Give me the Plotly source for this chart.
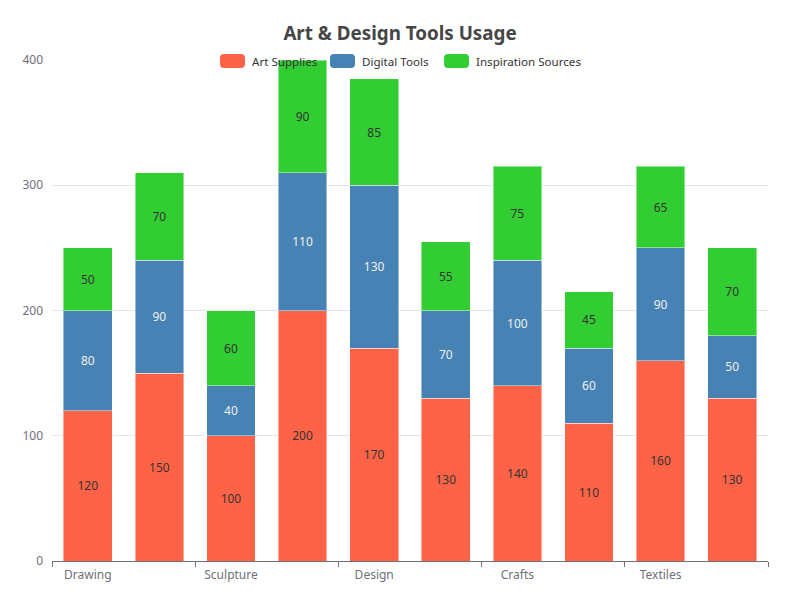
import plotly.graph_objects as go

categories = ["Drawing", "Painting", "Sculpture", "Digital Art", "Design",
              "Photography", "Crafts", "Printmaking", "Textiles", "Calligraphy"]
art_supplies = [120, 150, 100, 200, 170, 130, 140, 110, 160, 130]
digital_tools = [80, 90, 40, 110, 130, 70, 100, 60, 90, 50]
inspiration = [50, 70, 60, 90, 85, 55, 75, 45, 65, 70]
y_ticks = [0, 100, 200, 300, 400]

series = [
    ("Art Supplies", art_supplies, "#FF6347", "#333333"),
    ("Digital Tools", digital_tools, "#4682B4", "#EEEEEE"),
    ("Inspiration Sources", inspiration, "#32CD32", "#333333"),
]

xs = list(range(len(categories)))
FONT = "Noto Sans, Open Sans, sans-serif"

# page body margin offsets the figure by 8px; compensate
OFF = 8
W, H = 800, 600
L = 52 - OFF
T = 60 - OFF
R = W - (768 - OFF)
B = H - (561 - OFF)
PW, PH = W - L - R, H - T - B


def px_to_paper(sx, sy):
    fx, fy = sx - OFF, sy - OFF
    return (fx - L) / PW, (H - B - fy) / PH


def rounded_rect(x0, y0, x1, y1, r):
    def p(x, y):
        a, b = px_to_paper(x, y)
        return f"{a:.5f},{b:.5f}"
    return (f"M {p(x0 + r, y0)} L {p(x1 - r, y0)} Q {p(x1, y0)} {p(x1, y0 + r)} "
            f"L {p(x1, y1 - r)} Q {p(x1, y1)} {p(x1 - r, y1)} "
            f"L {p(x0 + r, y1)} Q {p(x0, y1)} {p(x0, y1 - r)} "
            f"L {p(x0, y0 + r)} Q {p(x0, y0)} {p(x0 + r, y0)} Z")


fig = go.Figure()
for name, vals, color, tcolor in series:
    fig.add_trace(go.Bar(
        x=xs, y=vals, name=name,
        marker=dict(color=color, line=dict(color="rgba(255,255,255,0.45)", width=1)),
        text=[str(v) for v in vals], textposition="inside",
        insidetextanchor="middle",
        textfont=dict(color=tcolor, size=12, family=FONT),
        width=0.68,
        hovertext=categories,
        showlegend=False,
    ))

# custom legend (rounded icons like the reference)
legend_icons_x = [220, 330, 444]
shapes = []
annotations = []
for (name, vals, color, tcolor), ix in zip(series, legend_icons_x):
    shapes.append(dict(type="path", xref="paper", yref="paper",
                       path=rounded_rect(ix, 54, ix + 25, 68, 4),
                       fillcolor=color, line=dict(width=0), layer="above"))
    ax, ay = px_to_paper(ix + 30, 61)
    annotations.append(dict(text=name, xref="paper", yref="paper", x=ax, y=ay,
                            xanchor="left", yanchor="middle", showarrow=False,
                            font=dict(size=11.6, color="#333333", family=FONT)))

fig.update_layout(
    barmode="stack",
    width=W, height=H,
    paper_bgcolor="white", plot_bgcolor="white",
    margin=dict(l=L, r=R, t=T, b=B, autoexpand=False),
    title=dict(text="<b>Art & Design Tools Usage</b>",
               x=(400 - OFF) / W, xanchor="center",
               y=1 - (33 - OFF) / H, yanchor="middle",
               font=dict(size=18.8, color="#464646", family=FONT)),
    shapes=shapes,
    annotations=annotations,
    showlegend=False,
)

fig.update_xaxes(
    range=[-0.5, len(categories) - 0.5],
    tickmode="array", tickvals=xs[::2], ticktext=categories[::2],
    ticks="", showgrid=False, zeroline=False, automargin=False,
    showline=True, linecolor="#6E7079", linewidth=1,
    tickfont=dict(size=12, color="#6E7079", family=FONT),
    ticklabelstandoff=3,
    minor=dict(tickmode="linear", tick0=-0.5, dtick=2, ticks="outside",
               ticklen=5, tickcolor="#6E7079", showgrid=False),
    fixedrange=True,
)
fig.update_yaxes(
    range=[0, 400], tickmode="array", tickvals=y_ticks, automargin=False,
    showgrid=True, gridcolor="#E0E6F1", gridwidth=1,
    zeroline=False, showline=False, ticks="",
    tickfont=dict(size=12, color="#6E7079", family=FONT),
    ticklabelstandoff=8,
)

fig.write_html("out.html")
